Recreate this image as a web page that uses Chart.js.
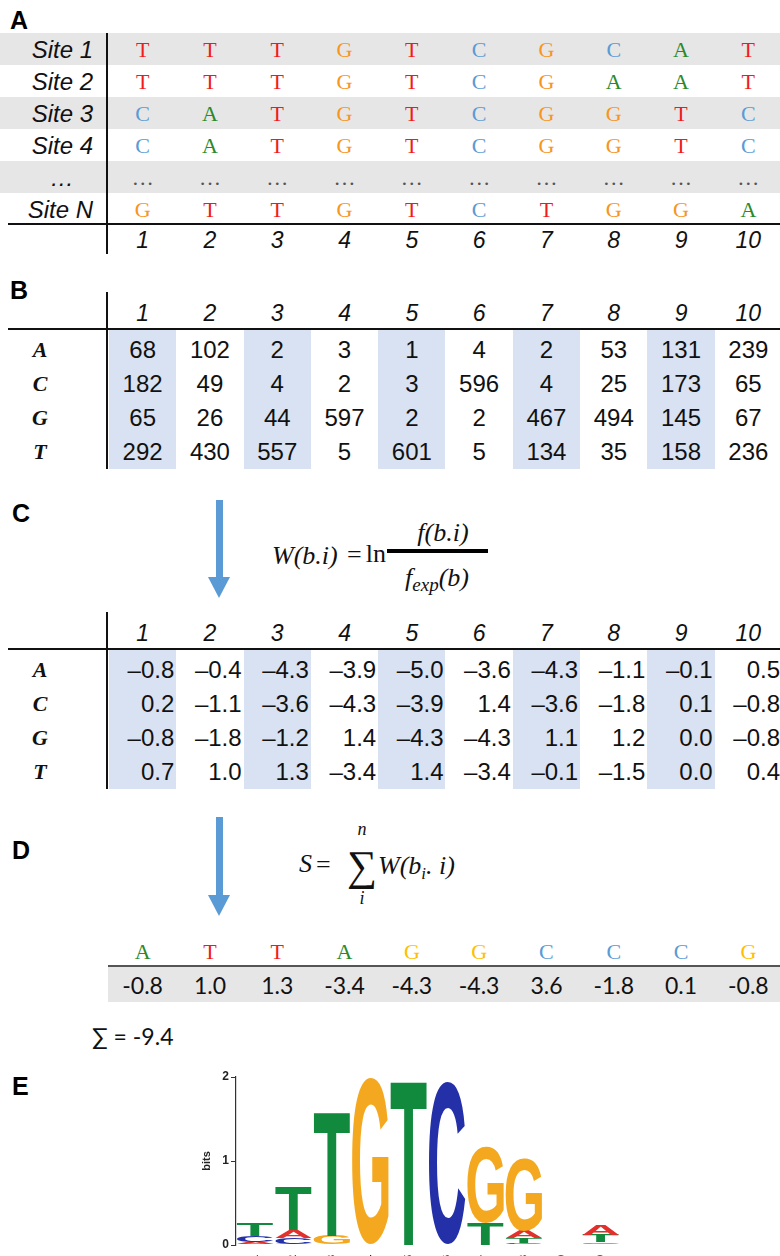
<!DOCTYPE html>
<html>
<head>
<meta charset="utf-8">
<script src="https://cdn.jsdelivr.net/npm/chart.js@4.4.1/dist/chart.umd.min.js"></script>
<style>
  html, body { margin: 0; padding: 0; background: #fff; }
  #page { position: relative; width: 780px; height: 1256px; overflow: hidden; }
  .t { position: absolute; white-space: nowrap; line-height: 1; }
  .b { position: absolute; }
  #logo { position: absolute; left: 200px; top: 1060px; }
</style>
</head>
<body>
<div id="page">
  <canvas id="logo" width="440" height="196"></canvas>
</div>
<script>
// Data
const positions = ['1', '2', '3', '4', '5', '6', '7', '8', '9', '10'];
const bases = ['A', 'C', 'G', 'T'];

const siteLabels = ['Site 1', 'Site 2', 'Site 3', 'Site 4', '…', 'Site N'];
const siteSeqs = ['TTTGTCGCAT', 'TTTGTCGAAT', 'CATGTCGGTC', 'CATGTCGGTC', '..........', 'GTTGTCTGGA'];

const countsA = [68, 102, 2, 3, 1, 4, 2, 53, 131, 239];
const countsC = [182, 49, 4, 2, 3, 596, 4, 25, 173, 65];
const countsG = [65, 26, 44, 597, 2, 2, 467, 494, 145, 67];
const countsT = [292, 430, 557, 5, 601, 5, 134, 35, 158, 236];

const weightsA = [-0.8, -0.4, -4.3, -3.9, -5.0, -3.6, -4.3, -1.1, -0.1, 0.5];
const weightsC = [0.2, -1.1, -3.6, -4.3, -3.9, 1.4, -3.6, -1.8, 0.1, -0.8];
const weightsG = [-0.8, -1.8, -1.2, 1.4, -4.3, -4.3, 1.1, 1.2, 0.0, -0.8];
const weightsT = [0.7, 1.0, 1.3, -3.4, 1.4, -3.4, -0.1, -1.5, 0.0, 0.4];

const querySeq = ['A', 'T', 'T', 'A', 'G', 'G', 'C', 'C', 'C', 'G'];
const queryScores = [-0.8, 1.0, 1.3, -3.4, -4.3, -4.3, 3.6, -1.8, 0.1, -0.8];
const scoreSum = '∑ = -9.4';

// sequence logo heights (bits)
const bitsA = [0.025, 0.09, 0, 0, 0, 0, 0, 0.09, 0, 0.12];
const bitsC = [0.07, 0.07, 0, 0, 0, 1.93, 0, 0.02, 0, 0.015];
const bitsG = [0.015, 0.015, 0.11, 1.98, 0, 0.008, 0.91, 0.86, 0, 0.02];
const bitsT = [0.15, 0.53, 1.49, 0, 1.97, 0, 0.26, 0.06, 0, 0.09];

// colours
const seqColors = { A: '#2a8a2a', C: '#5b9bd5', G: '#f7961e', T: '#f01c1c', '.': '#555' };
const queryColors = { A: '#2a8a2a', C: '#5b9bd5', G: '#ffbf00', T: '#f01c1c' };
const logoColors = { A: '#e2302c', C: '#2430a8', G: '#f4a81f', T: '#128a3e' };

const SANS = '"Liberation Sans", Arial, sans-serif';
const SERIF = '"Liberation Serif", "Times New Roman", serif';
const page = document.getElementById('page');
const colLeft = 109, colW = 67.3;
const cx = i => colLeft + colW * (i + 0.5);

function put(text, x, y, css, align) {
  const el = document.createElement('div');
  el.className = 't';
  el.textContent = text;
  Object.assign(el.style, css);
  el.style.left = x + 'px';
  el.style.top = y + 'px';
  const tx = align === 'right' ? '-100%' : align === 'left' ? '0' : '-50%';
  el.style.transform = 'translate(' + tx + ', -50%)';
  page.appendChild(el);
  return el;
}
function box(x, y, w, h, color) {
  const el = document.createElement('div');
  el.className = 'b';
  Object.assign(el.style, { left: x + 'px', top: y + 'px', width: w + 'px', height: h + 'px', background: color });
  page.appendChild(el);
}
const panel = { fontFamily: SANS, fontWeight: 'bold', fontSize: '25px', color: '#000' };
const fmt = v => (v < 0 ? '\u2013' : '') + Math.abs(v).toFixed(1);

// Panel A
put('A', 10, 20, panel, 'left');
[0, 2, 4].forEach(r => box(0, 33 + 32 * r, 780, 32, '#e7e6e6'));
siteLabels.forEach((lab, r) => {
  const y = 50 + 32 * r;
  if (lab === '…') {
    put(lab, 62, y, { fontFamily: SANS, fontStyle: 'italic', fontSize: '24px', color: '#111' });
  } else {
    put(lab, 93, y, { fontFamily: SANS, fontStyle: 'italic', fontSize: '24px', color: '#111' }, 'right');
  }
  siteSeqs[r].split('').forEach((ch, i) => {
    put(ch === '.' ? '…' : ch, cx(i), y, { fontFamily: SERIF, fontSize: '22px', color: seqColors[ch] });
  });
});
box(8, 223, 772, 2, '#111');
box(106, 33, 1.5, 221, '#111');
positions.forEach((p, i) => put(p, cx(i), 240, { fontFamily: SANS, fontStyle: 'italic', fontSize: '23px', color: '#111' }));

// Table helper for B and C
function table(top, rows, rowLabels, formatter, align) {
  const head = top + 21, line = top + 36;
  for (let i = 0; i < 10; i += 2) box(colLeft + colW * i, line + 1, colW, 140, '#d8e2f2');
  box(8, line, 772, 2, '#111');
  box(106, top, 1.5, line + 141 - top, '#111');
  positions.forEach((p, i) => put(p, cx(i), head, { fontFamily: SANS, fontStyle: 'italic', fontSize: '23px', color: '#111' }));
  rows.forEach((vals, r) => {
    const y = line + 22 + 34 * r;
    put(rowLabels[r], 40, y, { fontFamily: SERIF, fontStyle: 'italic', fontWeight: 'bold', fontSize: '22px', color: '#111' });
    vals.forEach((v, i) => {
      const x = align === 'right' ? colLeft + colW * (i + 1) - 2 : cx(i);
      put(formatter(v), x, y, { fontFamily: SANS, fontSize: '24px', color: '#111' }, align);
    });
  });
}

// Panel B
put('B', 10, 290, panel, 'left');
table(292, [countsA, countsC, countsG, countsT], bases, v => String(v), 'center');

// Arrows
function arrow(top, tip) {
  box(215.5, top, 7, tip - top - 18, '#5b9bd5');
  const el = document.createElement('div');
  el.className = 'b';
  Object.assign(el.style, {
    left: '208px', top: (tip - 21) + 'px', width: 0, height: 0,
    borderLeft: '11px solid transparent', borderRight: '11px solid transparent', borderTop: '21px solid #5b9bd5'
  });
  page.appendChild(el);
}

// Panel C
const math = { fontFamily: SERIF, fontStyle: 'italic', fontSize: '26px', color: '#111' };
put('C', 12, 513, panel, 'left');
arrow(500, 598);
put('W(b.i)', 272, 556, math, 'left');
put('=', 347, 555, Object.assign({}, math, { fontStyle: 'normal' }), 'left');
put('ln', 386, 554, Object.assign({}, math, { fontStyle: 'normal' }), 'right');
box(387, 549, 101, 3.5, '#000');
put('f(b.i)', 443, 533, math);
const den = put('', 437, 578, math);
den.innerHTML = 'f<span style="font-size:19px;position:relative;top:5px">exp</span>(b)';
table(612, [weightsA, weightsC, weightsG, weightsT], bases, fmt, 'right');

// Panel D
put('D', 12, 850, panel, 'left');
arrow(817, 916);
put('S', 299, 864, math, 'left');
put('=', 316, 865, Object.assign({}, math, { fontStyle: 'normal' }), 'left');
put('∑', 362, 866, { fontFamily: SERIF, fontSize: '42px', color: '#111' });
put('n', 362, 829, Object.assign({}, math, { fontSize: '18px' }));
put('i', 362, 898, Object.assign({}, math, { fontSize: '18px' }));
const wsum = put('', 378, 866, math, 'left');
wsum.innerHTML = 'W(b<span style="font-size:17px;position:relative;top:5px">i</span>. i)';
querySeq.forEach((ch, i) => put(ch, cx(i), 952, { fontFamily: SERIF, fontSize: '22px', color: queryColors[ch] }));
box(108, 966, 672, 36, '#e7e6e6');
box(108, 965, 672, 2, '#555');
queryScores.forEach((v, i) => put(v.toFixed(1), cx(i), 985, { fontFamily: 'Lato, sans-serif', fontSize: '23px', color: '#111' }));
put(scoreSum, 92, 1036, { fontFamily: 'Lato, sans-serif', fontSize: '23px', color: '#111' }, 'left');

// Panel E
put('E', 12, 1086, panel, 'left');

// Sequence logo: rank letters per position, smallest at the bottom
const logoBits = { A: bitsA, C: bitsC, G: bitsG, T: bitsT };
const layers = [0, 1, 2, 3].map(() => ({ data: [], letters: [] }));
positions.forEach((p, i) => {
  const order = bases.slice().sort((a, b) => logoBits[a][i] - logoBits[b][i]);
  order.forEach((b, k) => {
    layers[k].data.push(logoBits[b][i]);
    layers[k].letters.push(b);
  });
});

function drawGlyph(ctx, ch, color, left, top, w, h) {
  ctx.save();
  ctx.font = 'bold 100px "Liberation Sans", Arial, sans-serif';
  ctx.textAlign = 'left';
  ctx.textBaseline = 'alphabetic';
  const m = ctx.measureText(ch);
  const gw = m.actualBoundingBoxLeft + m.actualBoundingBoxRight;
  const gh = m.actualBoundingBoxAscent + m.actualBoundingBoxDescent;
  ctx.translate(left, top);
  ctx.scale(w / gw, h / gh);
  ctx.fillStyle = color;
  ctx.fillText(ch, m.actualBoundingBoxLeft, m.actualBoundingBoxAscent);
  ctx.restore();
}

const logoLetters = {
  id: 'logoLetters',
  afterDatasetsDraw(chart) {
    const ctx = chart.ctx;
    chart.data.datasets.forEach((ds, di) => {
      chart.getDatasetMeta(di).data.forEach((bar, i) => {
        const { x, y, base, width } = bar.getProps(['x', 'y', 'base', 'width'], true);
        const h = base - y;
        if (h < 0.5) return;
        const ch = ds.letters[i];
        drawGlyph(ctx, ch, logoColors[ch], x - width / 2, y, width, h);
      });
    });
  }
};

new Chart(document.getElementById('logo'), {
  type: 'bar',
  data: {
    labels: positions,
    datasets: layers.map(l => ({
      data: l.data,
      letters: l.letters,
      backgroundColor: 'rgba(0,0,0,0)',
      borderWidth: 0,
      barPercentage: 0.95,
      categoryPercentage: 1.0
    }))
  },
  options: {
    responsive: false,
    animation: false,
    layout: { padding: { top: 17, right: 20, left: 0, bottom: 0 } },
    plugins: { legend: { display: false }, tooltip: { enabled: false } },
    scales: {
      x: {
        stacked: true,
        afterFit: s => { s.height = 11; },
        grid: { display: false },
        border: { display: false },
        ticks: {
          minRotation: 90, maxRotation: 90, autoSkip: false, padding: 2,
          color: '#222', font: { family: 'Liberation Sans', weight: 'bold', size: 10 }
        }
      },
      y: {
        stacked: true,
        min: 0,
        max: 2,
        afterFit: s => { s.width = 36; },
        grid: { display: true, drawOnChartArea: false, drawTicks: true, tickLength: 5, color: '#333' },
        border: { display: true, color: '#333', width: 1.2 },
        ticks: { stepSize: 1, padding: 2, color: '#222', font: { family: 'Liberation Sans', weight: 'bold', size: 12 } },
        title: { display: true, text: 'bits', padding: 0, color: '#222', font: { family: 'Liberation Sans', weight: 'bold', size: 11 } }
      }
    }
  },
  plugins: [logoLetters]
});
</script>
</body>
</html>
